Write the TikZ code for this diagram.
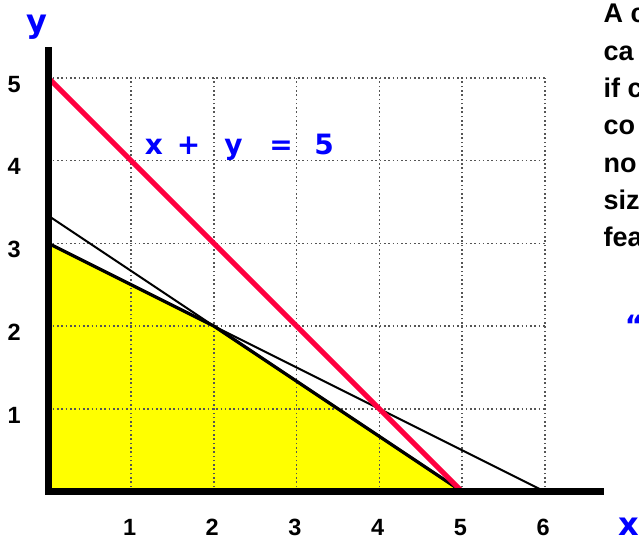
\documentclass[tikz,border=0pt]{standalone}
\usepackage{fontspec}
\setmainfont{Liberation Sans}
\newfontfamily\comicfont{DejaVu Sans}
\definecolor{myred}{RGB}{255,0,64}
\definecolor{myblue}{RGB}{0,0,255}
\definecolor{myyellow}{RGB}{255,255,0}
\definecolor{gridgray}{RGB}{85,85,85}
\begin{document}
\begin{tikzpicture}[x=1pt,y=1pt,
  ticklab/.style={font=\fontsize{23.5}{23.5}\selectfont\bfseries, inner sep=0pt},
  eqtxt/.style={font=\comicfont\bfseries\fontsize{28}{28}\selectfont, text=myblue, inner sep=0pt, anchor=base},
  axlab/.style={font=\comicfont\bfseries\fontsize{32}{32}\selectfont, text=myblue, inner sep=0pt, anchor=base},
  bodytxt/.style={font=\fontsize{27}{27}\selectfont\bfseries, anchor=base west, inner sep=0pt},
  gridline/.style={draw=gridgray, line width=1.6pt, dash pattern=on 1.6pt off 2.7pt},
  thinline/.style={draw=black, line width=2pt},
  boundary/.style={draw=black, line width=3.3pt, line join=round},
  redline/.style={draw=myred, line width=5pt},
  axisline/.style={draw=black, line width=6.5pt, line join=miter}]
\useasboundingbox (0,0) rectangle (639,538);
\begin{scope}[shift={(48.5pt,46.5pt)}, x=82.7pt, y=82.7pt]
  \coordinate (O) at (0,0);
  \coordinate (A3) at (0,3);
  \coordinate (A103) at (0,10/3);
  \coordinate (P22) at (2,2);
  \coordinate (B5) at (5,0);
  \coordinate (B6) at (6,0);
  \coordinate (Y5) at (0,5);
  \coordinate (Ytop) at (0,5.37);
  \coordinate (Xend) at (6.72,0);
  \fill[myyellow] (O) -- (A3) -- (P22) -- (B5) -- cycle;
  \foreach \i in {1,...,6} \draw[gridline] (\i,0) -- (\i,5);
  \foreach \j in {1,...,5} \draw[gridline] (0,\j) -- (6,\j);
  \draw[thinline] (A3) -- (B6);
  \draw[thinline] (A103) -- (B5);
  \draw[boundary] (A3) -- (P22) -- (B5);
  \draw[redline] (Y5) -- (B5);
  \draw[axisline] (Ytop) -- (O) -- (Xend);
  \foreach \i in {1,...,6} \node[ticklab] (xt\i) at (\i-0.02,-0.43) {\i};
  \foreach \j in {1,...,5} \node[ticklab] (yt\j) at (-0.415,\j-0.075) {\j};
\end{scope}
\node[axlab] (ylab) at (37,505.4) {y};
\node[axlab] (xlab) at (629,2.4) {x};
\node[eqtxt] (e1) at (154,383) {x};
\node[eqtxt] (e2) at (188.5,383) {+};
\node[eqtxt] (e3) at (233.5,383) {y};
\node[eqtxt] (e4) at (281,383) {=};
\node[eqtxt] (e5) at (324,383) {5};
\node[eqtxt] (quote) at (634,202.6) {“};
\node[bodytxt] (t1) at (603.5,515) {A c};
\node[bodytxt] (t2) at (603.5,477.7) {ca};
\node[bodytxt] (t3) at (603.5,440.3) {if c};
\node[bodytxt] (t4) at (603.5,403) {co};
\node[bodytxt] (t5) at (603.5,365.7) {no};
\node[bodytxt] (t6) at (603.5,328.3) {siz};
\node[bodytxt] (t7) at (603.5,291) {fea};
\end{tikzpicture}
\end{document}
